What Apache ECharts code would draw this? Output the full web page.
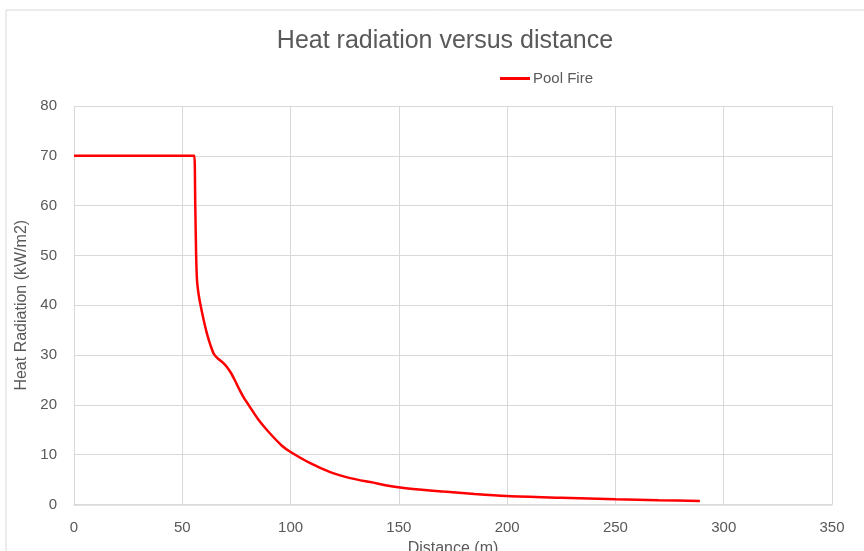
<!DOCTYPE html>
<html>
<head>
<meta charset="utf-8">
<script src="https://cdn.jsdelivr.net/npm/echarts@6/dist/echarts.min.js"></script>
<style>
  html, body { margin: 0; padding: 0; background: #ffffff; }
  #chart { width: 864px; height: 551px; }
</style>
</head>
<body>
<div id="chart"></div>
<script>
// Pool fire heat radiation profile: distance (m) vs heat flux (kW/m2)
const distance = [0, 55.2, 55.6, 56.0, 56.4, 56.8, 57.5, 58.3, 59.9, 61.4, 63.0, 64.5, 66.0, 69.9, 72.2, 74.2, 76.8, 78.6, 80.6, 85.2, 89.8, 96.0, 100.2, 109.1, 118.3, 127.5, 136.8, 150.6, 170.6, 185, 199.8, 225, 250.1, 270, 289];
const heatRadiation = [70, 70, 70, 60, 50, 45, 42.3, 40.3, 37.0, 34.3, 32.0, 30.3, 29.5, 28.0, 26.6, 25.0, 22.7, 21.3, 20.0, 17.0, 14.6, 11.8, 10.5, 8.3, 6.5, 5.3, 4.5, 3.4, 2.6, 2.1, 1.7, 1.35, 1.05, 0.85, 0.7];
const seriesName = 'Pool Fire';
const xTicks = { min: 0, max: 350, interval: 50 };
const yTicks = { min: 0, max: 80, interval: 10 };

const font = '"Liberation Sans", Arial, sans-serif';
const textColor = '#595959';
const gridColor = '#d9d9d9';

const points = distance.map((d, i) => [d, heatRadiation[i]]);

const chart = echarts.init(document.getElementById('chart'), null, { renderer: 'canvas' });
chart.setOption({
  backgroundColor: '#ffffff',
  animation: false,
  graphic: [{
    type: 'rect',
    shape: { x: 6, y: 10, width: 900, height: 600 },
    style: { fill: 'none', stroke: gridColor, lineWidth: 1 },
    silent: true,
    z: -1
  }],
  title: {
    text: 'Heat radiation versus distance',
    left: 440,
    textAlign: 'center',
    top: 24,
    textStyle: { fontFamily: font, fontSize: 25, fontWeight: 'normal', color: textColor }
  },
  legend: {
    data: [seriesName],
    left: 495,
    top: 66,
    itemWidth: 30,
    itemHeight: 3,
    itemGap: 4,
    icon: 'rect',
    textStyle: { fontFamily: font, fontSize: 15, color: textColor, padding: [0, 0, 0, -2] }
  },
  grid: { left: 74, top: 106, width: 758, height: 398.5, containLabel: false, outerBoundsMode: 'none' },
  xAxis: {
    type: 'value',
    min: xTicks.min, max: xTicks.max, interval: xTicks.interval,
    name: 'Distance (m)',
    nameLocation: 'middle',
    nameGap: 33,
    nameTextStyle: { fontFamily: font, fontSize: 16, color: textColor },
    axisLine: { show: true, lineStyle: { color: gridColor, width: 1.5 } },
    axisTick: { show: false },
    axisLabel: { fontFamily: font, fontSize: 15, color: textColor, margin: 16 },
    splitLine: { show: true, lineStyle: { color: gridColor, width: 1 } }
  },
  yAxis: {
    type: 'value',
    min: yTicks.min, max: yTicks.max, interval: yTicks.interval,
    name: 'Heat Radiation (kW/m2)',
    nameLocation: 'middle',
    nameGap: 40,
    nameTextStyle: { fontFamily: font, fontSize: 16, color: textColor },
    axisLine: { show: false },
    axisTick: { show: false },
    axisLabel: { fontFamily: font, fontSize: 15, color: textColor, margin: 17 },
    splitLine: { show: true, lineStyle: { color: gridColor, width: 1 } }
  },
  series: [{
    name: seriesName,
    type: 'line',
    data: points,
    showSymbol: false,
    smooth: 0.3,
    lineStyle: { color: '#ff0000', width: 2.5 },
    itemStyle: { color: '#ff0000' }
  }]
});
</script>
</body>
</html>
